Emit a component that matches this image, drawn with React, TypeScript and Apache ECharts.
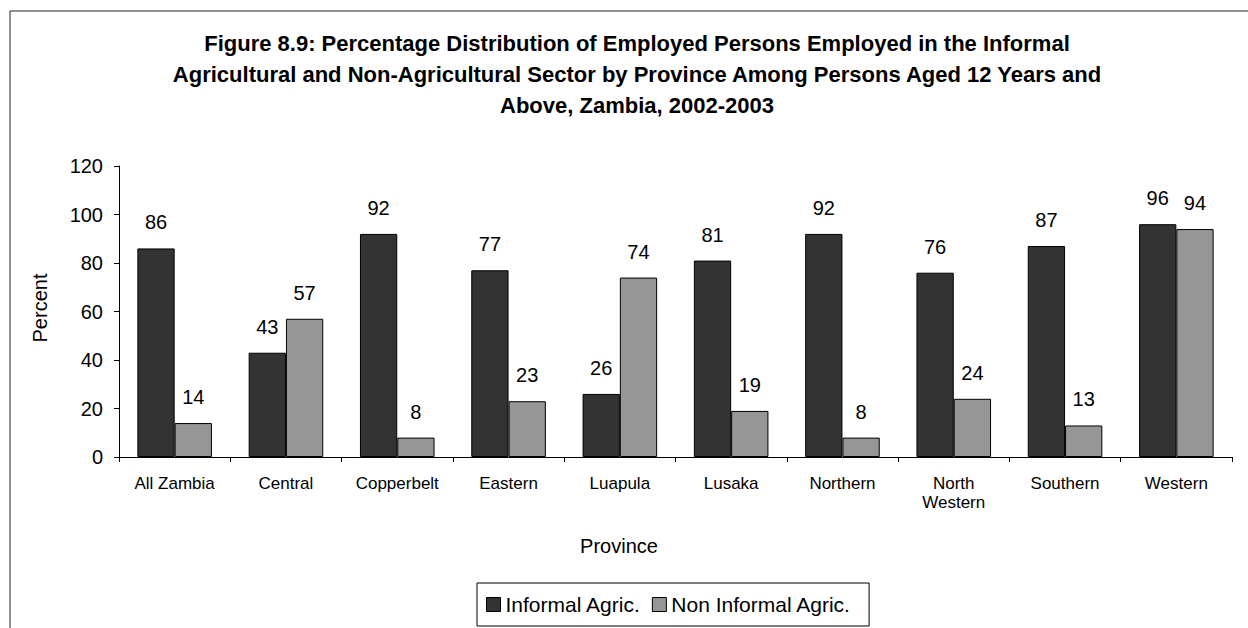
import React, { useEffect, useRef } from "react";
import * as echarts from "echarts";

const provinces = [
  "All Zambia",
  "Central",
  "Copperbelt",
  "Eastern",
  "Luapula",
  "Lusaka",
  "Northern",
  "North\nWestern",
  "Southern",
  "Western",
];
const informalAgric = [86, 43, 92, 77, 26, 81, 92, 76, 87, 96];
const nonInformalAgric = [14, 57, 8, 23, 74, 19, 8, 24, 13, 94];
const seriesNames = ["Informal Agric.", "Non Informal Agric."];
const yTicks = { min: 0, max: 120, interval: 20 };
const titleText =
  "Figure 8.9: Percentage Distribution of Employed Persons Employed in the Informal\nAgricultural and Non-Agricultural Sector by Province Among Persons Aged 12 Years and\nAbove, Zambia, 2002-2003";
const yAxisName = "Percent";
const xAxisName = "Province";

const FONT = "'Liberation Sans', Arial, Helvetica, sans-serif";

export default function App() {
  const ref = useRef<HTMLDivElement>(null);
  useEffect(() => {
    if (!ref.current) return;
    const chart = echarts.init(ref.current, undefined, { renderer: "svg" });
    const labelCfg = {
      show: true,
      position: "top",
      distance: 16,
      color: "#000",
      fontSize: 20,
      fontFamily: FONT,
    };
    chart.setOption({
      animation: false,
      backgroundColor: "#fff",
      textStyle: { fontFamily: FONT },
      grid: { left: 119, right: 16, top: 166, bottom: 171, containLabel: false },
      legend: {
        left: 477,
        top: 583,
        orient: "horizontal",
        padding: [11, 18, 11, 9],
        itemGap: 11,
        itemWidth: 14,
        itemHeight: 14,
        itemStyle: { borderColor: "#000", borderWidth: 1 },
        borderColor: "#000",
        borderWidth: 1,
        textStyle: { fontSize: 21, color: "#000", fontFamily: FONT },
        icon: "rect",
        data: seriesNames,
      },
      xAxis: {
        type: "category",
        data: provinces,
        boundaryGap: true,
        axisLine: { lineStyle: { color: "#000", width: 1 } },
        axisTick: { show: true, length: 5, alignWithLabel: false, lineStyle: { color: "#000" } },
        axisLabel: {
          color: "#000",
          fontSize: 17,
          fontFamily: FONT,
          margin: 17,
          interval: 0,
          lineHeight: 19,
        },
      },
      yAxis: {
        type: "value",
        min: yTicks.min,
        max: yTicks.max,
        interval: yTicks.interval,
        splitLine: { show: false },
        axisLine: { show: true, lineStyle: { color: "#000", width: 1 } },
        axisTick: { show: true, length: 5, lineStyle: { color: "#000" } },
        axisLabel: { color: "#000", fontSize: 20, fontFamily: FONT, margin: 16 },
      },
      series: [
        {
          name: seriesNames[0],
          type: "bar",
          data: informalAgric,
          barGap: "0%",
          barCategoryGap: "33%",
          itemStyle: { color: "#333333", borderColor: "#000", borderWidth: 1 },
          label: labelCfg,
        },
        {
          name: seriesNames[1],
          type: "bar",
          data: nonInformalAgric,
          barGap: "0%",
          barCategoryGap: "33%",
          itemStyle: { color: "#969696", borderColor: "#000", borderWidth: 1 },
          label: labelCfg,
        },
      ],
      graphic: [
        {
          type: "rect",
          shape: { x: 10, y: 11, width: 1400, height: 800 },
          style: { fill: "none", stroke: "#222", lineWidth: 1 },
          silent: true,
        },
        {
          type: "text",
          x: 637,
          y: 28,
          style: {
            text: titleText,
            fontSize: 22,
            fontWeight: "bold",
            fontFamily: FONT,
            fill: "#000",
            align: "center",
            verticalAlign: "top",
            lineHeight: 31,
          },
        },
        {
          type: "text",
          x: 40,
          y: 308,
          rotation: Math.PI / 2,
          style: {
            text: yAxisName,
            fontSize: 20,
            fontFamily: FONT,
            fill: "#000",
            align: "center",
            verticalAlign: "middle",
          },
        },
        {
          type: "text",
          x: 619,
          y: 546,
          style: {
            text: xAxisName,
            fontSize: 20,
            fontFamily: FONT,
            fill: "#000",
            align: "center",
            verticalAlign: "middle",
          },
        },
      ],
    });
    return () => chart.dispose();
  }, []);
  return (
    <div
      ref={ref}
      style={{ position: "fixed", left: 0, top: 0, width: 1248, height: 628 }}
    />
  );
}
